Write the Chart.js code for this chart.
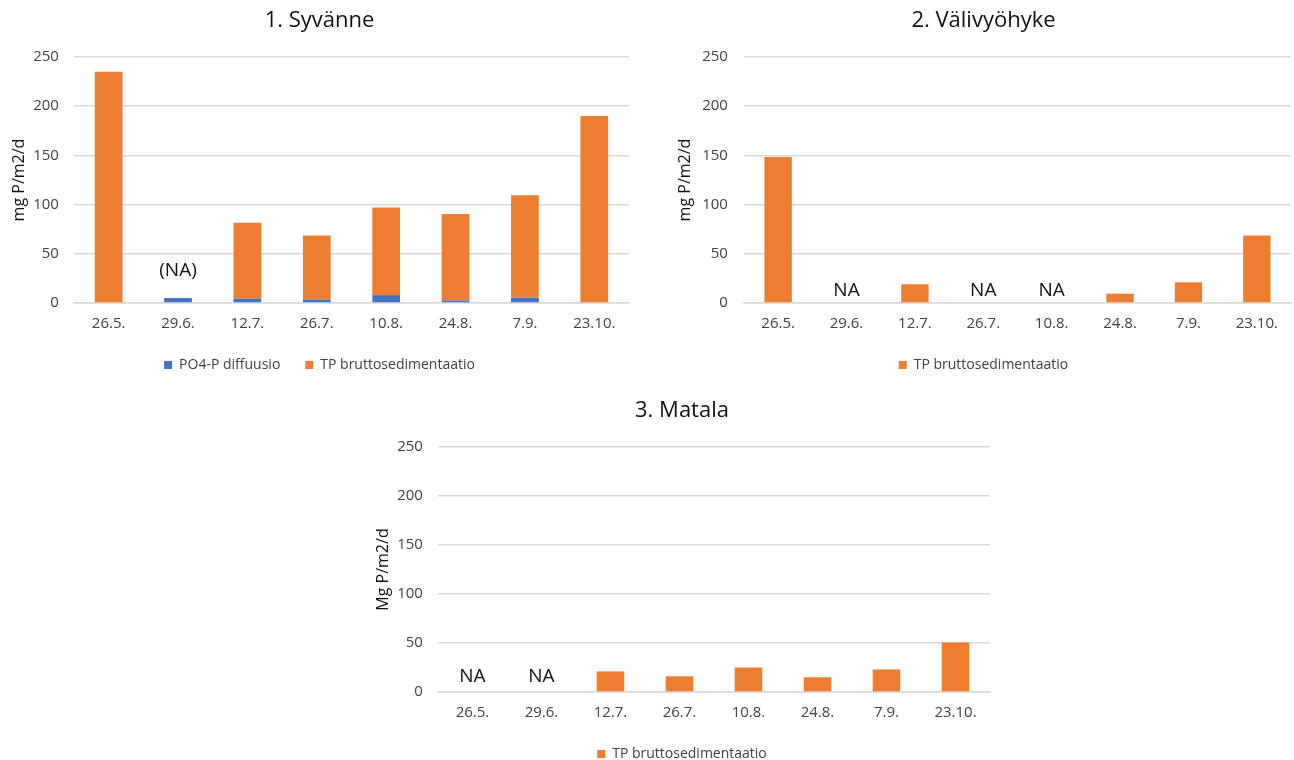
<!DOCTYPE html>
<html>
<head>
<meta charset="utf-8">
<script src="https://cdn.jsdelivr.net/npm/chart.js@4/dist/chart.umd.min.js"></script>
<style>
  html, body { margin: 0; padding: 0; background: #fff; }
  body { width: 1294px; height: 760px; position: relative; overflow: hidden; }
  .box { position: absolute; }
</style>
</head>
<body>
<div class="box" style="left:0px;top:0px;width:640px;height:382px;"><canvas id="c1"></canvas></div>
<div class="box" style="left:650px;top:0px;width:644px;height:382px;"><canvas id="c2"></canvas></div>
<div class="box" style="left:355px;top:391px;width:640px;height:380px;"><canvas id="c3"></canvas></div>
<script>
const categories = ['26.5.', '29.6.', '12.7.', '26.7.', '10.8.', '24.8.', '7.9.', '23.10.'];
const yTicks = [0, 50, 100, 150, 200, 250];

// 1. Syvänne (stacked)
const syvanneDiffusion = [0, 5, 4.5, 3.5, 8, 2.5, 5.5, 0];
const syvanneSedimentation = [235, null, 77, 65, 89, 88, 104, 190];
const syvanneNA = ['', '(NA)', '', '', '', '', '', ''];

// 2. Välivyöhyke
const valiSedimentation = [148.5, null, 19, null, null, 9.5, 21, 68.5];
const valiNA = ['', 'NA', '', 'NA', 'NA', '', '', ''];

// 3. Matala
const matalaSedimentation = [null, null, 21, 16, 25, 15, 23, 50.5];
const matalaNA = ['NA', 'NA', '', '', '', '', '', ''];

const BLUE = '#4472C4';
const ORANGE = '#ED7D31';
const FONT = '"Open Sans", sans-serif';
const TITLE_SIZE = 22;

const naPlugin = {
  id: 'naLabels',
  afterDatasetsDraw(chart, args, opts) {
    const labels = opts.labels || [];
    const xs = chart.scales.x, ys = chart.scales.y;
    const ctx = chart.ctx;
    ctx.save();
    ctx.font = '19px ' + FONT;
    ctx.fillStyle = '#111';
    ctx.textAlign = 'center';
    ctx.textBaseline = 'middle';
    labels.forEach((t, i) => {
      if (!t) return;
      ctx.fillText(t, xs.getPixelForValue(i), ys.getPixelForValue(0) - (opts.offset || 4));
    });
    ctx.restore();
  }
};

function makeChart(id, title, yTitle, datasets, naLabels, naOffset, pad, tickPad, titleTop, plotTop, yTrim) {
  return new Chart(document.getElementById(id), {
    type: 'bar',
    data: { labels: categories, datasets },
    plugins: [naPlugin],
    options: {
      responsive: true,
      maintainAspectRatio: false,
      animation: false,
      layout: { padding: pad },
      datasets: { bar: { categoryPercentage: 1, barPercentage: 0.4 } },
      plugins: {
        title: {
          display: true, text: title, color: '#111',
          font: { family: FONT, size: TITLE_SIZE, weight: 'normal' },
          padding: { top: titleTop, bottom: plotTop - titleTop - TITLE_SIZE * 1.2 }
        },
        legend: {
          position: 'bottom',
          labels: {
            boxWidth: 8, boxHeight: 8, color: '#404040', padding: 25,
            font: { family: FONT, size: 14 }
          }
        },
        tooltip: { enabled: false },
        naLabels: { labels: naLabels, offset: naOffset }
      },
      scales: {
        x: {
          stacked: true,
          grid: { display: false, drawTicks: false },
          border: { display: true, color: '#d9d9d9', width: 1.5 },
          ticks: { color: '#404040', font: { family: FONT, size: 15 }, padding: 12 },
          afterFit: (s) => { s.height -= 12; }
        },
        y: {
          stacked: true,
          min: 0, max: 250,
          afterBuildTicks: (axis) => { axis.ticks = yTicks.map(v => ({ value: v })); },
          grid: { color: '#d9d9d9', lineWidth: 1.5, drawTicks: false },
          border: { display: false },
          ticks: { color: '#404040', font: { family: FONT, size: 15 }, padding: tickPad },
          title: { display: true, text: yTitle, color: '#111', font: { family: FONT, size: 16 }, padding: { top: 0, bottom: 5 } },
          afterFit: (s) => { s.width -= yTrim; }
        }
      }
    }
  });
}

makeChart('c1', '1. Syvänne', 'mg P/m2/d', [
  { label: 'PO4-P diffuusio', data: syvanneDiffusion, backgroundColor: BLUE },
  { label: 'TP bruttosedimentaatio', data: syvanneSedimentation, backgroundColor: ORANGE }
], syvanneNA, 32, { left: 10, right: 11, top: 0, bottom: 0 }, 15, 8, 57, 16);

makeChart('c2', '2. Välivyöhyke', 'mg P/m2/d', [
  { label: 'TP bruttosedimentaatio', data: valiSedimentation, backgroundColor: ORANGE }
], valiNA, 12, { left: 26, right: 3, top: 0, bottom: 0 }, 16, 8, 57, 14);

makeChart('c3', '3. Matala', 'Mg P/m2/d', [
  { label: 'TP bruttosedimentaatio', data: matalaSedimentation, backgroundColor: ORANGE }
], matalaNA, 15, { left: 19, right: 5, top: 0, bottom: 0 }, 15, 7, 56, 16);
</script>
</body>
</html>
